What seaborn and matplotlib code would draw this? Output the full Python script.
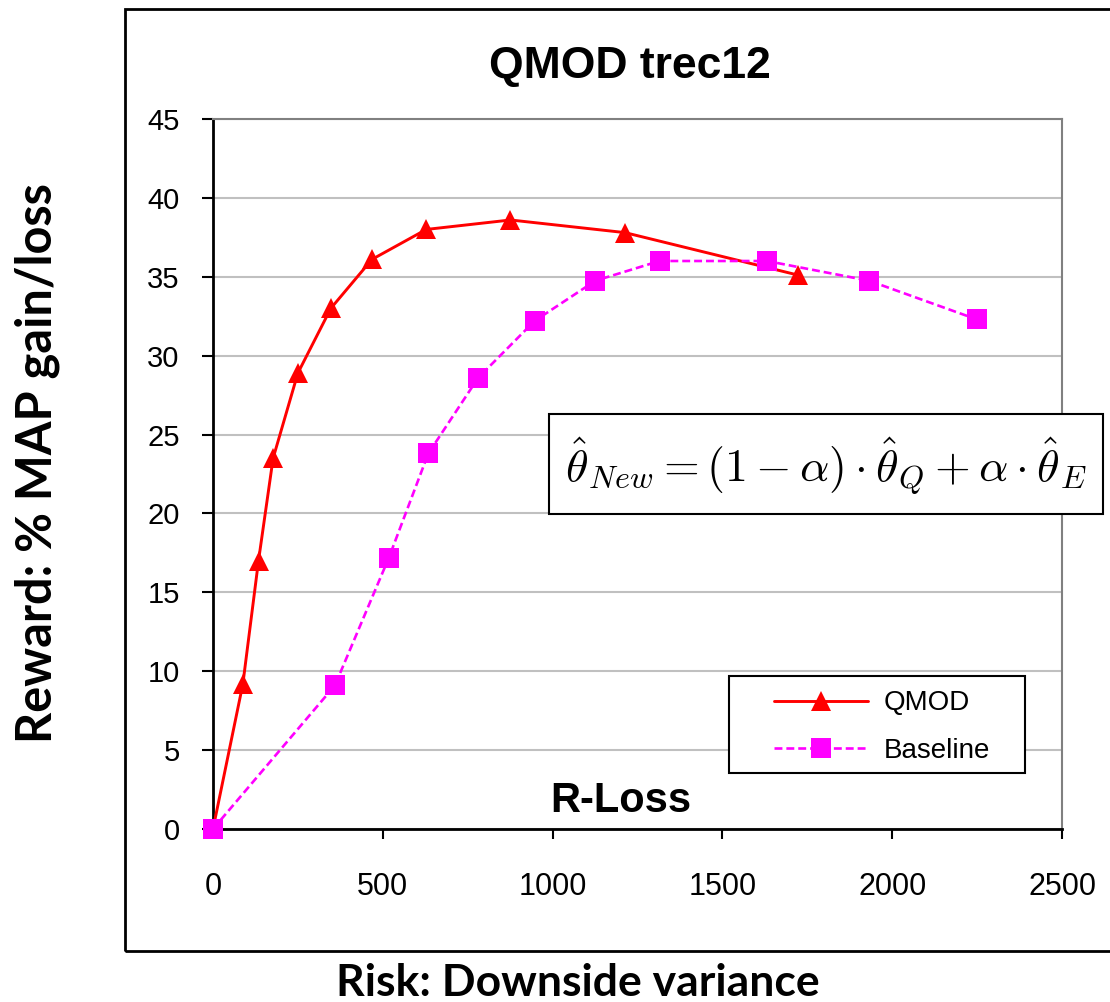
import matplotlib
matplotlib.use("Agg")
import matplotlib.pyplot as plt
import seaborn as sns
from matplotlib.patches import Rectangle

# values
qmod_risk = [0, 88, 134, 177, 250, 347, 468, 628, 876, 1213, 1724]
qmod_reward = [0, 9.2, 17.0, 23.5, 28.9, 33.0, 36.1, 38.0, 38.6, 37.8, 35.1]
base_risk = [0, 359, 518, 634, 781, 947, 1126, 1315, 1631, 1932, 2249]
base_reward = [0, 9.1, 17.2, 23.8, 28.6, 32.2, 34.75, 36.0, 36.0, 34.75, 32.3]
series_names = ["QMOD", "Baseline"]
x_ticks = [0, 500, 1000, 1500, 2000, 2500]
y_ticks = [0, 5, 10, 15, 20, 25, 30, 35, 40, 45]

title = "QMOD trec12"
x_label = "Risk: Downside variance"
y_label = "Reward: % MAP gain/loss"
inner_label = "R-Loss"
formula = r"$\hat{\theta}_{New} = (1-\alpha)\cdot\hat{\theta}_Q + \alpha\cdot\hat{\theta}_E$"

sns.set_style("white")
plt.rcParams["font.family"] = ["Liberation Sans", "DejaVu Sans"]
plt.rcParams["mathtext.fontset"] = "cm"
for key in ["text.color", "axes.labelcolor", "xtick.color", "ytick.color"]:
    plt.rcParams[key] = "black"

W, H = 1110, 1002
fig = plt.figure(figsize=(W / 100, H / 100), dpi=100)
ax = fig.add_axes([213 / W, 1 - 829 / H, 849 / W, 710 / H])

sns.lineplot(x=qmod_risk, y=qmod_reward, ax=ax, color="#ff0000", lw=2.1,
             marker="^", markersize=14.5, markeredgewidth=0, errorbar=None,
             label=series_names[0], clip_on=False, zorder=3)
sns.lineplot(x=base_risk, y=base_reward, ax=ax, color="#ff00ff", lw=1.9,
             linestyle=(0, (3, 1.5)), marker="s", markersize=14.5,
             markeredgewidth=0, errorbar=None, label=series_names[1],
             clip_on=False, zorder=4)

ax.set_xlim(0, 2500)
ax.set_ylim(0, 45)
ax.set_xticks(x_ticks)
ax.set_yticks(y_ticks)
ax.yaxis.grid(True, color="#c0c0c0", lw=1.5)
ax.xaxis.grid(False)
ax.set_axisbelow(True)

for side in ["left", "bottom"]:
    ax.spines[side].set_color("black")
    ax.spines[side].set_linewidth(2)
for side in ["top", "right"]:
    ax.spines[side].set_color("#808080")
    ax.spines[side].set_linewidth(1.5)

ax.tick_params(axis="y", left=True, direction="out", length=8, width=1.5,
               pad=16, labelsize=21, colors="black")
ax.tick_params(axis="x", bottom=True, direction="out", length=7, width=1.5,
               pad=24, labelsize=22, colors="black")

ax.set_title(title, x=0.4912, y=1.0577, pad=0, fontsize=32, fontweight="bold")

ax.set_ylabel(y_label, fontsize=35, fontweight="bold", family=["Lato", "DejaVu Sans"])
ax.yaxis.set_label_coords(-0.180, 0.515)
ax.set_xlabel(x_label, fontsize=32, fontweight="bold", family=["Lato", "DejaVu Sans"])
ax.xaxis.set_label_coords(0.43, -0.189)

ax.text(0.4806, 0.024, inner_label, transform=ax.transAxes, ha="center",
        va="baseline", fontsize=30, fontweight="bold")

# legend: handles from the plotted lines, frame drawn as a box
handles, labels = ax.get_legend_handles_labels()
if ax.get_legend() is not None:
    ax.get_legend().remove()
fig.add_artist(Rectangle((729 / W, 1 - 773 / H), 296 / W, 97 / H,
                         transform=fig.transFigure, facecolor="white",
                         edgecolor="black", lw=1.5, zorder=4))
fig.legend(handles, labels, loc="center left", bbox_to_anchor=(774 / W, 1 - 727 / H),
           frameon=False, borderpad=0, borderaxespad=0, handlelength=3.4,
           handletextpad=0.54, labelspacing=0.76, fontsize=20)

# formula box
fig.add_artist(Rectangle((549 / W, 1 - 514 / H), 554 / W, 100 / H,
                         transform=fig.transFigure, facecolor="white",
                         edgecolor="black", lw=1.5, zorder=4))
fig.text(826 / W, 1 - 466 / H, formula, ha="center", va="center", fontsize=33, zorder=5)

# chart area border
fig.add_artist(Rectangle((125 / W, 1 - 951 / H), 1.0, 942 / H,
                         transform=fig.transFigure, fill=False,
                         edgecolor="black", lw=2, zorder=1))

fig.savefig("out.png", dpi=100)
